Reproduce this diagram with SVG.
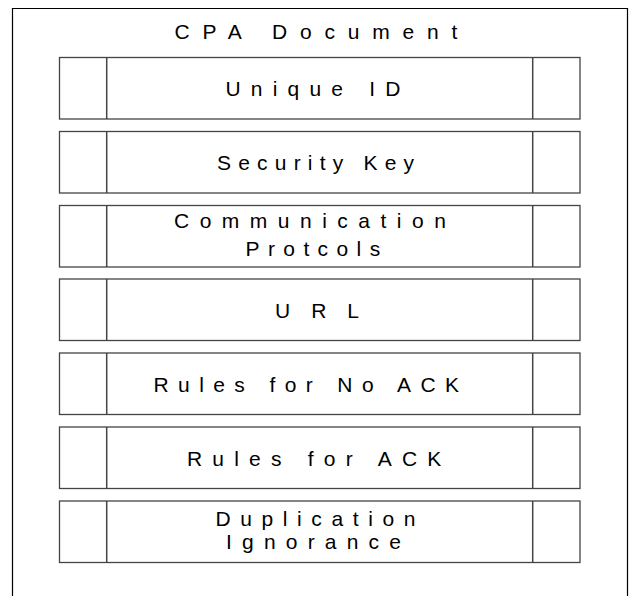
<svg xmlns="http://www.w3.org/2000/svg" width="630" height="596" viewBox="0 0 630 596">
  <style>
    .frame { fill: none; stroke: #000; stroke-width: 1.2; }
    .box { fill: #fff; stroke: #444; stroke-width: 1.3; }
    .div { stroke: #444; stroke-width: 1.5; }
    .lbl { font-family: "Liberation Sans", Arial, sans-serif; font-size: 21px; fill: #000; }
  </style>
  <rect width="630" height="596" fill="#fff"/>

  <!-- document frame (open at the bottom edge) -->
  <g id="cpa-document">
    <path class="frame" d="M12.5,600 V8.5 H627.5 V600"/>
    <text class="lbl" x="174.5" y="38.5" letter-spacing="12.8">CPA Document</text>
  </g>

  <defs>
    <!-- field row: outer box with two side compartments -->
    <g id="field">
      <rect class="box" x="59.5" y="0" width="520.5" height="61.5"/>
      <line class="div" x1="106.7" y1="0" x2="106.7" y2="61.5"/>
      <line class="div" x1="532.7" y1="0" x2="532.7" y2="61.5"/>
    </g>
  </defs>

  <g id="unique-id">
    <use href="#field" y="57.5"/>
    <text class="lbl" x="225.5" y="95.5" letter-spacing="10.2">Unique ID</text>
  </g>
  <g id="security-key">
    <use href="#field" y="131.5"/>
    <text class="lbl" x="217" y="169.5" letter-spacing="7.2">Security Key</text>
  </g>
  <g id="communication-protocols">
    <use href="#field" y="205.5"/>
    <text class="lbl" x="174" y="228" letter-spacing="10.5">Communication</text>
    <text class="lbl" x="245.5" y="255.5" letter-spacing="8.4">Protcols</text>
  </g>
  <g id="url">
    <use href="#field" y="279"/>
    <text class="lbl" x="275" y="317.5" letter-spacing="21">URL</text>
  </g>
  <g id="rules-no-ack">
    <use href="#field" y="353"/>
    <text class="lbl" x="153.5" y="391.5" letter-spacing="9.4">Rules for No ACK</text>
  </g>
  <g id="rules-ack">
    <use href="#field" y="427"/>
    <text class="lbl" x="187" y="465.5" letter-spacing="10.2">Rules for ACK</text>
  </g>
  <g id="duplication-ignorance">
    <use href="#field" y="501"/>
    <text class="lbl" x="215.5" y="525.5" letter-spacing="9.6">Duplication</text>
    <text class="lbl" x="226" y="548.5" letter-spacing="10.2">Ignorance</text>
  </g>

  <g id="connectors"/>
</svg>
